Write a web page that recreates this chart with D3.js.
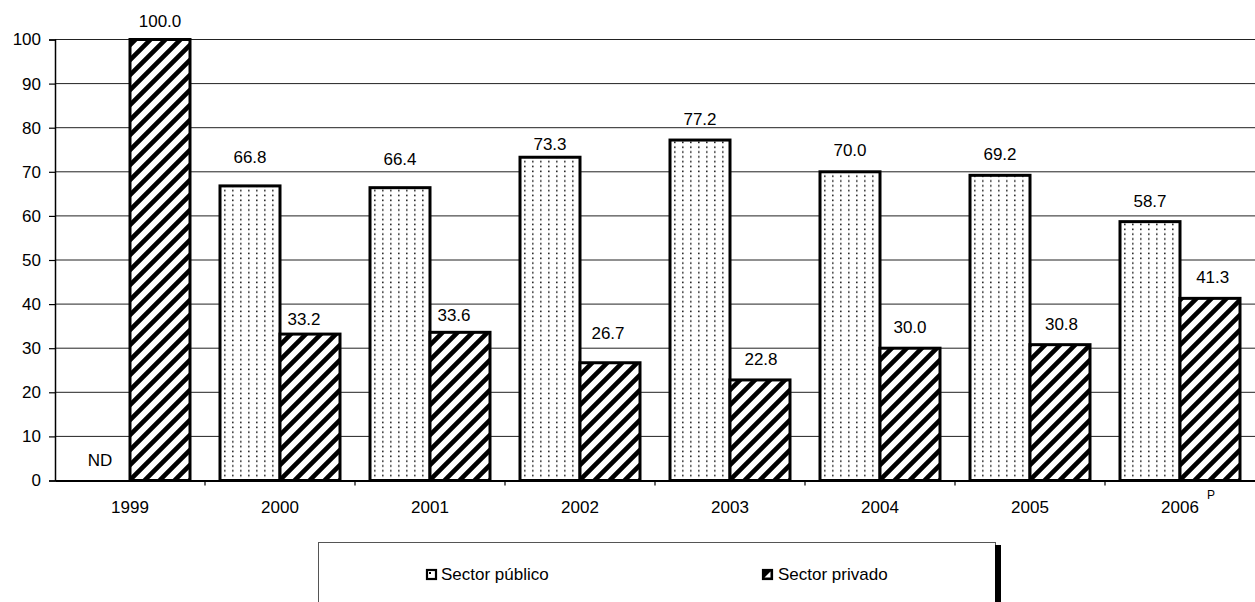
<!DOCTYPE html>
<html>
<head>
<meta charset="utf-8">
<script src="https://cdn.jsdelivr.net/npm/d3@7"></script>
<style>
  html, body { margin: 0; padding: 0; background: #fff; }
  svg { display: block; font-family: "Liberation Sans", Arial, sans-serif; }
</style>
</head>
<body>
<svg id="chart" width="1255" height="602"></svg>
<script>
// ---- data ----
const years = ["1999", "2000", "2001", "2002", "2003", "2004", "2005", "2006"];
const publico = [null, 66.8, 66.4, 73.3, 77.2, 70.0, 69.2, 58.7];
const privado = [100.0, 33.2, 33.6, 26.7, 22.8, 30.0, 30.8, 41.3];
const yTicks = [0, 10, 20, 30, 40, 50, 60, 70, 80, 90, 100];
const seriesNames = ["Sector público", "Sector privado"];
const missingLabel = "ND";
const lastYearNote = "P";

// ---- layout (label nudges, px) ----
const pubLabelGap = [21, 28.7, 28.7, 13.3, 21, 21.7, 21.3, 21];
const privLabelGap = [19, 15.7, 17, 29.7, 21, 21.7, 20.7, 21];
const privLabelDx = [0, -6, -6, -2, 1, 0, 1.5, 2.7];

const svg = d3.select("#chart");
const plot = { left: 55, right: 1255, top: 39.5, bottom: 480.5 };

const x = d3.scaleBand().domain(years).range([plot.left, plot.right]).paddingInner(0).paddingOuter(0);
const inner = d3.scaleBand().domain(["pub", "priv"]).range([0, x.bandwidth()]).paddingOuter(0.25).paddingInner(0);
const y = d3.scaleLinear().domain([0, 100]).range([plot.bottom, plot.top]);

// patterns
const defs = svg.append("defs");
const dots = defs.append("pattern").attr("id", "dots").attr("patternUnits", "userSpaceOnUse")
  .attr("width", 8).attr("height", 4.83);
dots.append("rect").attr("width", 8).attr("height", 4.83).attr("fill", "#fff");
dots.append("rect").attr("x", 3).attr("y", 1.5).attr("width", 1.6).attr("height", 1.6).attr("fill", "#222");

const hatch = defs.append("pattern").attr("id", "hatch").attr("patternUnits", "userSpaceOnUse")
  .attr("width", 15).attr("height", 15);
hatch.append("rect").attr("width", 15).attr("height", 15).attr("fill", "#fff");
hatch.append("path").attr("d", "M-3.75,3.75 L3.75,-3.75 M0,15 L15,0 M11.25,18.75 L18.75,11.25")
  .attr("stroke", "#000").attr("stroke-width", 4.6);

// gridlines
svg.append("g").selectAll("line").data(yTicks.filter(d => d > 0)).join("line")
  .attr("x1", plot.left).attr("x2", plot.right)
  .attr("y1", d => y(d)).attr("y2", d => y(d))
  .attr("stroke", "#222").attr("stroke-width", 1);

// y axis
const yAxis = svg.append("g").attr("transform", `translate(${plot.left},0)`)
  .call(d3.axisLeft(y).tickValues(yTicks).tickSize(6).tickPadding(8).tickFormat(d3.format("d")));
yAxis.select(".domain").attr("stroke", "#000").attr("stroke-width", 1.5);
yAxis.selectAll(".tick line").attr("stroke", "#000").attr("stroke-width", 1.2);
yAxis.selectAll("text").attr("font-size", 17).attr("fill", "#000").attr("font-family", "Liberation Sans, Arial, sans-serif");

// bars
const groups = svg.append("g").selectAll("g").data(years).join("g")
  .attr("transform", d => `translate(${x(d)},0)`);

groups.filter((d, i) => publico[i] != null).append("rect")
  .attr("x", inner("pub")).attr("width", inner.bandwidth())
  .attr("y", d => y(publico[years.indexOf(d)]))
  .attr("height", d => y(0) - y(publico[years.indexOf(d)]))
  .attr("fill", "url(#dots)").attr("stroke", "#000").attr("stroke-width", 3);

groups.append("rect")
  .attr("x", inner("priv")).attr("width", inner.bandwidth())
  .attr("y", d => y(privado[years.indexOf(d)]))
  .attr("height", d => y(0) - y(privado[years.indexOf(d)]))
  .attr("fill", "url(#hatch)").attr("stroke", "#000").attr("stroke-width", 3);

// x axis
const xAxis = svg.append("g").attr("transform", `translate(0,${plot.bottom})`)
  .call(d3.axisBottom(x).tickSize(0).tickPadding(20));
xAxis.select(".domain").attr("stroke", "#000").attr("stroke-width", 2);
xAxis.selectAll("text").attr("font-size", 17).attr("fill", "#000").attr("font-family", "Liberation Sans, Arial, sans-serif");
svg.append("g").selectAll("line").data(years.slice(1)).join("line")
  .attr("x1", d => x(d)).attr("x2", d => x(d))
  .attr("y1", plot.bottom).attr("y2", plot.bottom + 5)
  .attr("stroke", "#000").attr("stroke-width", 1.2);

// superscript P on last year
svg.append("text").attr("x", x(years[years.length - 1]) + x.bandwidth() / 2 + 31).attr("y", 499)
  .attr("text-anchor", "middle").attr("font-size", 12).text(lastYearNote);

// value labels
const fmt = d3.format(".1f");
groups.append("text")
  .attr("x", inner("pub") + inner.bandwidth() / 2)
  .attr("y", (d, i) => publico[i] == null ? y(0) - pubLabelGap[i] : y(publico[i]) - pubLabelGap[i])
  .attr("dy", "0.36em").attr("text-anchor", "middle").attr("font-size", 17)
  .text((d, i) => publico[i] == null ? missingLabel : fmt(publico[i]));

groups.append("text")
  .attr("x", (d, i) => inner("priv") + inner.bandwidth() / 2 + privLabelDx[i])
  .attr("y", (d, i) => y(privado[i]) - privLabelGap[i])
  .attr("dy", "0.36em").attr("text-anchor", "middle").attr("font-size", 17)
  .text((d, i) => fmt(privado[i]));

// legend
const lg = svg.append("g");
lg.append("rect").attr("x", 318.5).attr("y", 542.5).attr("width", 677).attr("height", 80)
  .attr("fill", "#fff").attr("stroke", "#555").attr("stroke-width", 1);
lg.append("rect").attr("x", 995).attr("y", 545).attr("width", 6).attr("height", 60).attr("fill", "#000");

const legendItems = [
  { name: seriesNames[0], sx: 426, tx: 441 },
  { name: seriesNames[1], sx: 762, tx: 778 }
];
const li = lg.selectAll("g.item").data(legendItems).join("g").attr("class", "item");
li.append("rect").attr("x", d => d.sx + 1).attr("y", 570).attr("width", 9).attr("height", 9)
  .attr("fill", d => d.name === seriesNames[0] ? "#fff" : "#000").attr("stroke", "#000").attr("stroke-width", 2.2);
li.filter(d => d.name === seriesNames[1]).append("path")
  .attr("d", d => `M${d.sx + 2.5},${577.5} L${d.sx + 8.5},${571.5} L${d.sx + 8.5},${577.5} Z`)
  .attr("fill", "#fff");
li.filter(d => d.name === seriesNames[0]).append("rect")
  .attr("x", d => d.sx + 3).attr("y", 572).attr("width", 2).attr("height", 2).attr("fill", "#000");
li.append("text").attr("x", d => d.tx).attr("y", 574).attr("dy", "0.36em")
  .attr("font-size", 17).text(d => d.name);
</script>
</body>
</html>
